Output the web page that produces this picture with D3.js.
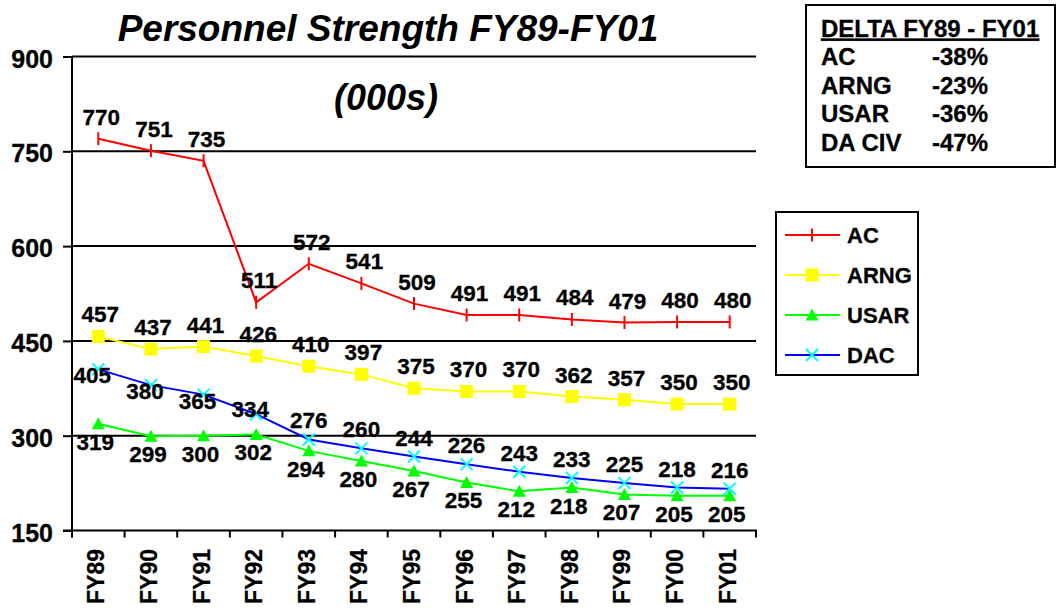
<!DOCTYPE html>
<html>
<head>
<meta charset="utf-8">
<script src="https://cdn.jsdelivr.net/npm/d3@7"></script>
<style>
  html, body { margin: 0; padding: 0; background: #fff; }
  svg { display: block; font-family: "Liberation Sans", Arial, sans-serif; font-weight: bold; }
</style>
</head>
<body>
<svg id="chart" width="1056" height="611"></svg>
<script>
// ---------- data ----------
const categories = ["FY89","FY90","FY91","FY92","FY93","FY94","FY95","FY96","FY97","FY98","FY99","FY00","FY01"];
const acValues   = [770,751,735,511,572,541,509,491,491,484,479,480,480];
const arngValues = [457,437,441,426,410,397,375,370,370,362,357,350,350];
const usarValues = [319,299,300,302,276,260,244,226,212,218,207,205,205];
const dacValues  = [405,380,365,334,294,280,267,255,243,233,225,218,216];
// data labels as printed on the chart
const acLabels   = [770,751,735,511,572,541,509,491,491,484,479,480,480];
const arngLabels = [457,437,441,426,410,397,375,370,370,362,357,350,350];
const usarLabels = [319,299,300,302,294,280,267,255,212,218,207,205,205];
const dacLabels  = [405,380,365,334,276,260,244,226,243,233,225,218,216];
const yTicks = [150,300,450,600,750,900];
const seriesNames = ["AC","ARNG","USAR","DAC"];
const deltaHeader = "DELTA FY89 - FY01";
const deltaNames = ["AC","ARNG","USAR","DA CIV"];
const deltaValues = ["-38%","-23%","-36%","-47%"];

// ---------- layout ----------
const svg = d3.select("#chart");
const x = d3.scaleBand().domain(categories).range([72, 756]);
const y = d3.scaleLinear().domain([150, 900]).range([530.5, 56.5]);
const cx = c => x(c) + x.bandwidth() / 2;

// gridlines
svg.append("g").selectAll("line").data(yTicks.filter(v => v > 150)).join("line")
  .attr("x1", 72).attr("x2", 756)
  .attr("y1", d => y(d)).attr("y2", d => y(d))
  .attr("stroke", "#000").attr("stroke-width", 2);

// y axis
const yAxis = svg.append("g").attr("transform", "translate(72,0)")
  .call(d3.axisLeft(y).tickValues(yTicks).tickSize(9).tickPadding(10).tickFormat(d3.format("d")));
yAxis.select(".domain").remove();
yAxis.selectAll(".tick line").attr("stroke", "#000").attr("stroke-width", 2);
yAxis.selectAll(".tick text").attr("font-size", 25).attr("font-weight", "bold")
  .attr("font-family", "'Liberation Sans', Arial, sans-serif").attr("fill", "#000").attr("dy", "0.42em")
  .attr("stroke", "#000").attr("stroke-width", 0.3);
svg.append("line").attr("x1", 72).attr("x2", 72).attr("y1", y(900)).attr("y2", y(150) + 7)
  .attr("stroke", "#000").attr("stroke-width", 2);

// x axis
svg.append("line").attr("x1", 63).attr("x2", 757).attr("y1", y(150)).attr("y2", y(150))
  .attr("stroke", "#000").attr("stroke-width", 2);
const bounds = d3.range(categories.length + 1).map(i => x.range()[0] + i * x.step());
svg.append("g").selectAll("line").data(bounds).join("line")
  .attr("x1", d => d).attr("x2", d => d).attr("y1", y(150)).attr("y2", y(150) + 7)
  .attr("stroke", "#000").attr("stroke-width", 2);
svg.append("g").selectAll("text").data(categories).join("text")
  .attr("transform", d => `translate(${cx(d) + 6},549) rotate(-90)`)
  .attr("text-anchor", "end").attr("font-size", 23).attr("fill", "#000")
  .attr("stroke", "#000").attr("stroke-width", 0.3)
  .text(d => d);

// titles
svg.append("text").attr("x", 388).attr("y", 41).attr("text-anchor", "middle")
  .attr("font-size", 37).attr("font-style", "italic").text("Personnel Strength FY89-FY01");
svg.append("text").attr("x", 386).attr("y", 110).attr("text-anchor", "middle")
  .attr("font-size", 36).attr("font-style", "italic").text("(000s)");

// series
const series = [
  { name: "AC",   values: acValues,   labels: acLabels,   line: "#FF0000", marker: "tick",     mcol: "#FF0000",
    ldx: () => 3,  ldy: () => -22 },
  { name: "ARNG", values: arngValues, labels: arngLabels, line: "#FFFF00", marker: "square",   mcol: "#FFFF00",
    ldx: () => 2,  ldy: () => -22 },
  { name: "USAR", values: usarValues, labels: usarLabels, line: "#00FF00", marker: "triangle", mcol: "#00FF00",
    ldx: () => -3, ldy: () => 18 },
  { name: "DAC",  values: dacValues,  labels: dacLabels,  line: "#0000FF", marker: "x",        mcol: "#00FFFF",
    ldx: i => (i < 4 ? -6 : 0), ldy: i => (i < 3 ? 6 : i === 3 ? -5 : -19) }
];

function drawMarker(g, type, col) {
  if (type === "tick") {
    g.append("line").attr("x1", 0).attr("x2", 0).attr("y1", -6.5).attr("y2", 6.5)
      .attr("stroke", col).attr("stroke-width", 2);
  } else if (type === "square") {
    g.append("rect").attr("x", -6.5).attr("y", -6.5).attr("width", 13).attr("height", 13).attr("fill", col);
  } else if (type === "triangle") {
    g.append("path").attr("d", "M0,-6.5L6.5,5.5L-6.5,5.5Z").attr("fill", col);
  } else if (type === "x") {
    g.append("path").attr("d", "M-6,-6L6,6M-6,6L6,-6").attr("stroke", col).attr("stroke-width", 2).attr("fill", "none");
  }
}

const lineGen = d3.line().x(d => cx(d.c)).y(d => y(d.v));
series.forEach(s => {
  const pts = categories.map((c, i) => ({ c, v: s.values[i] }));
  svg.append("path").datum(pts).attr("d", lineGen).attr("fill", "none")
    .attr("stroke", s.line).attr("stroke-width", 2);
});
series.forEach(s => {
  categories.forEach((c, i) => {
    const g = svg.append("g").attr("transform", `translate(${cx(c)},${y(s.values[i])})`);
    drawMarker(g, s.marker, s.mcol);
  });
});
series.forEach(s => {
  svg.append("g").selectAll("text").data(categories).join("text")
    .attr("x", (c, i) => cx(c) + s.ldx(i))
    .attr("y", (c, i) => y(s.values[i]) + s.ldy(i) + 8)
    .attr("text-anchor", "middle").attr("font-size", 22.5).attr("fill", "#000")
    .attr("stroke", "#000").attr("stroke-width", 0.3)
    .text((c, i) => s.labels[i]);
});

// legend
const leg = svg.append("g");
leg.append("rect").attr("x", 776).attr("y", 212).attr("width", 142).attr("height", 163)
  .attr("fill", "#fff").attr("stroke", "#000").attr("stroke-width", 2);
series.forEach((s, i) => {
  const ly = 235 + i * 40;
  leg.append("line").attr("x1", 785).attr("x2", 840).attr("y1", ly).attr("y2", ly)
    .attr("stroke", s.line).attr("stroke-width", 2);
  const g = leg.append("g").attr("transform", `translate(812,${ly})`);
  drawMarker(g, s.marker, s.mcol);
  leg.append("text").attr("x", 847).attr("y", ly + 8).attr("font-size", 22)
    .attr("stroke", "#000").attr("stroke-width", 0.3).text(seriesNames[i]);
});

// delta box
const db = svg.append("g");
db.append("rect").attr("x", 806).attr("y", 5).attr("width", 249).attr("height", 162)
  .attr("fill", "#fff").attr("stroke", "#000").attr("stroke-width", 2);
db.append("text").attr("x", 821).attr("y", 36.5).attr("font-size", 24)
  .attr("stroke", "#000").attr("stroke-width", 0.3)
  .attr("text-decoration", "underline").text(deltaHeader);
deltaNames.forEach((n, i) => {
  const by = 65 + i * 28.6;
  db.append("text").attr("x", 821).attr("y", by).attr("font-size", 24)
    .attr("stroke", "#000").attr("stroke-width", 0.3).text(n);
  db.append("text").attr("x", 932).attr("y", by).attr("font-size", 24)
    .attr("stroke", "#000").attr("stroke-width", 0.3).text(deltaValues[i]);
});
</script>
</body>
</html>
